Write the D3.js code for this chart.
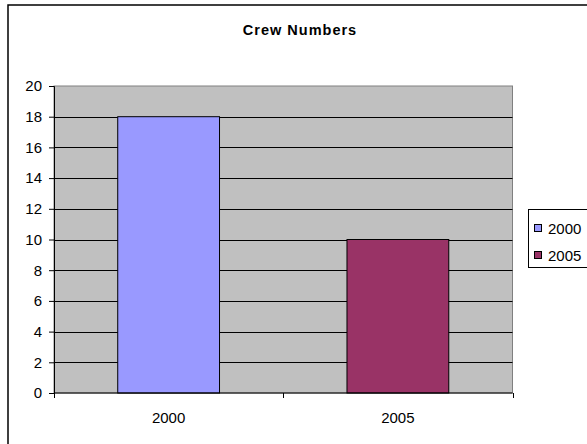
<!DOCTYPE html>
<html>
<head>
<meta charset="utf-8">
<script src="https://cdn.jsdelivr.net/npm/d3@7"></script>
<style>
  html, body { margin: 0; padding: 0; background: #fff; }
  svg { display: block; font-family: "Liberation Sans", Arial, sans-serif; }
</style>
</head>
<body>
<svg id="chart" width="587" height="444"></svg>
<script>
// Crew counts per year
const categories = ["2000", "2005"];
const crewValues = [18, 10];
const barColors = ["#9999FF", "#993366"];
const yTicks = [0, 2, 4, 6, 8, 10, 12, 14, 16, 18, 20];

const svg = d3.select("#chart");

// Chart frame
svg.append("rect")
  .attr("x", 8).attr("y", 5)
  .attr("width", 590).attr("height", 450)
  .attr("fill", "#fff").attr("stroke", "#000").attr("stroke-width", 1.5);

const plot = { left: 54, right: 512.5, top: 86, bottom: 393 };

const x = d3.scaleBand()
  .domain(categories)
  .range([plot.left, plot.right]);

const y = d3.scaleLinear()
  .domain([0, 20])
  .range([plot.bottom, plot.top]);

// Plot background
svg.append("rect")
  .attr("x", plot.left).attr("y", plot.top)
  .attr("width", plot.right - plot.left).attr("height", plot.bottom - plot.top)
  .attr("fill", "#C0C0C0").attr("stroke", "#808080").attr("stroke-width", 1);

// Horizontal gridlines
svg.append("g")
  .selectAll("line")
  .data(yTicks.filter(d => d > 0 && d < 20))
  .join("line")
  .attr("x1", plot.left).attr("x2", plot.right)
  .attr("y1", d => Math.round(y(d)) + 0.5).attr("y2", d => Math.round(y(d)) + 0.5)
  .attr("stroke", "#000").attr("stroke-width", 1);

// Bars
const barWidth = x.bandwidth() * 0.444;
svg.append("g")
  .selectAll("rect")
  .data(categories)
  .join("rect")
  .attr("x", (d) => x(d) + x.bandwidth() / 2 - barWidth / 2)
  .attr("y", (d, i) => y(crewValues[i]))
  .attr("width", barWidth)
  .attr("height", (d, i) => y(0) - y(crewValues[i]))
  .attr("fill", (d, i) => barColors[i])
  .attr("stroke", "#000").attr("stroke-width", 1);

// Y axis
const yAxis = d3.axisLeft(y).tickValues(yTicks).tickSize(5).tickPadding(7);
const gy = svg.append("g")
  .attr("transform", `translate(${plot.left},0)`)
  .call(yAxis);
gy.select(".domain").attr("stroke", "#000");
gy.selectAll(".tick line").attr("stroke", "#000");
gy.selectAll("text").attr("font-size", 15).attr("fill", "#000")
  .attr("font-family", "'Liberation Sans', Arial, sans-serif");

// X axis with ticks on category boundaries
const gx = svg.append("g")
  .attr("transform", `translate(0,${plot.bottom})`);
gx.append("line")
  .attr("x1", plot.left).attr("x2", plot.right)
  .attr("y1", 0).attr("y2", 0)
  .attr("stroke", "#000");
const boundaries = [plot.left, ...categories.map(c => x(c) + x.bandwidth())];
gx.selectAll("line.tk")
  .data(boundaries)
  .join("line")
  .attr("class", "tk")
  .attr("x1", d => Math.round(d) + 0.5).attr("x2", d => Math.round(d) + 0.5)
  .attr("y1", 0).attr("y2", 5)
  .attr("stroke", "#000");
gx.selectAll("text")
  .data(categories)
  .join("text")
  .attr("x", d => x(d) + x.bandwidth() / 2)
  .attr("y", 30)
  .attr("text-anchor", "middle")
  .attr("font-size", 15)
  .text(d => d);

// Title
svg.append("text")
  .attr("x", 300).attr("y", 35)
  .attr("text-anchor", "middle")
  .attr("font-size", 14.5).attr("font-weight", "bold")
  .attr("letter-spacing", 1)
  .text("Crew Numbers");

// Legend
const legend = svg.append("g");
legend.append("rect")
  .attr("x", 528.5).attr("y", 209.5)
  .attr("width", 70).attr("height", 58)
  .attr("fill", "#fff").attr("stroke", "#000");
const rows = legend.selectAll("g.row")
  .data(categories)
  .join("g")
  .attr("class", "row")
  .attr("transform", (d, i) => `translate(0,${228 + i * 27})`);
rows.append("rect")
  .attr("x", 534.5).attr("y", -3.5)
  .attr("width", 7).attr("height", 7)
  .attr("fill", (d, i) => barColors[i])
  .attr("stroke", "#000");
rows.append("text")
  .attr("x", 548).attr("y", 5.5)
  .attr("font-size", 15)
  .text(d => d);
</script>
</body>
</html>
